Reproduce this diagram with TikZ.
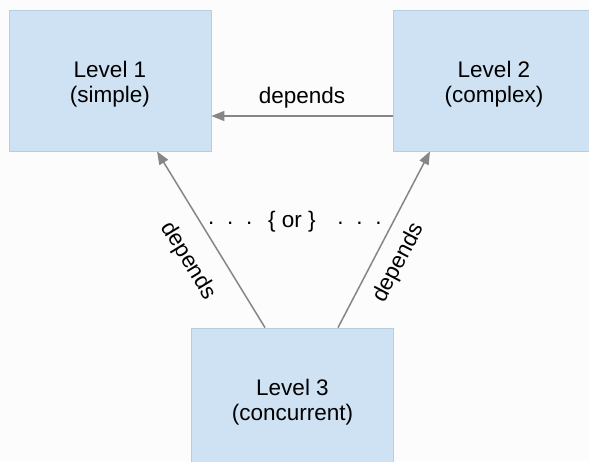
\documentclass[tikz,border=0pt]{standalone}
\usepackage{fontspec}
\setmainfont{Liberation Sans}
\usetikzlibrary{arrows.meta}
\definecolor{boxfill}{HTML}{CFE2F3}
\definecolor{boxline}{HTML}{B8CEE0}
\definecolor{arrowgrey}{HTML}{868686}
\definecolor{bg}{HTML}{FCFCFC}
\tikzset{
  levelbox/.style={rectangle, fill=boxfill, draw=boxline, line width=0.8pt,
    minimum width=202pt, minimum height=141pt, inner sep=0pt},
  boxtext/.style={align=center, inner sep=0pt, font=\fontsize{22.5}{25.5}\selectfont},
  dep/.style={draw=arrowgrey, line width=1.5pt, -{Triangle[length=13pt,width=10pt]}},
  lbl/.style={font=\fontsize{22.5}{25.5}\selectfont, inner sep=0pt},
}
\begin{document}
\begin{tikzpicture}[x=1pt,y=-1pt]
\useasboundingbox (0,0) rectangle (589,461);
\clip (0,0) rectangle (589,461);
\fill[bg] (0,0) rectangle (589,461);
\node[levelbox] (l1) at (110,80.5) {};
\node[levelbox] (l2) at (494,80.5) {};
\node[levelbox] (l3) at (292.5,398.5) {};
\node[boxtext] (t1) at ([yshift=-3.5pt]l1.center) {Level 1\\(simple)};
\node[boxtext] (t2) at ([yshift=-3.5pt]l2.center) {Level 2\\(complex)};
\node[boxtext] (t3) at ([yshift=-3.5pt]l3.center) {Level 3\\(concurrent)};
\draw[dep] ([yshift=-35.5pt]l2.west) -- node[lbl, above=7.5pt] (d12) {depends} ([yshift=-35.5pt]l1.east);
\draw[dep] ([xshift=-27.5pt]l3.north) -- ([xshift=47pt]l1.south);
\draw[dep] ([xshift=45.5pt]l3.north) -- ([xshift=-64pt]l2.south);
\node[lbl, rotate=-58.5] (d31) at (188,261) {depends};
\node[lbl, rotate=62.4] (d32) at (399,263) {depends};
\node[lbl, anchor=base] (or) at (292,227) {\{ or \}};
\node[lbl, anchor=base] (dl) at (230.3,224) {\makebox[19pt]{.}\makebox[19pt]{.}\makebox[19pt]{.}};
\node[lbl, anchor=base] (dr) at (359.4,224) {\makebox[19pt]{.}\makebox[19pt]{.}\makebox[19pt]{.}};
\end{tikzpicture}
\end{document}
